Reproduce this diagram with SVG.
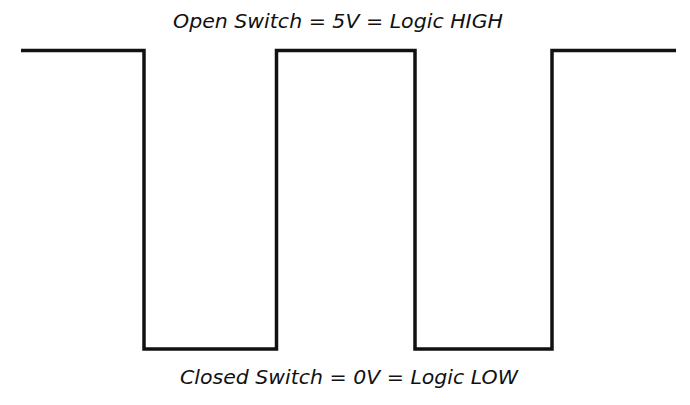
<svg xmlns="http://www.w3.org/2000/svg" width="690" height="405" viewBox="0 0 690 405">
<style>
.wave{fill:none;stroke:#111;stroke-width:3.5;stroke-linejoin:miter;stroke-linecap:butt}
.lbl{font-family:"DejaVu Sans","Liberation Sans",sans-serif;font-style:italic;font-size:19px;fill:#111;text-anchor:middle}
</style>
<rect width="690" height="405" fill="#fff"/>
<g id="connectors">
<path class="wave" d="M21 50.5 H144 V349 H276.5 V50.5 H415 V349 H552 V50.5 H676"/>
</g>
<g id="label-high"><text class="lbl" x="338" y="28" textLength="330" lengthAdjust="spacingAndGlyphs">Open Switch = 5V = Logic HIGH</text></g>
<g id="label-low"><text class="lbl" x="349" y="384" textLength="338" lengthAdjust="spacingAndGlyphs">Closed Switch = 0V = Logic LOW</text></g>
</svg>
